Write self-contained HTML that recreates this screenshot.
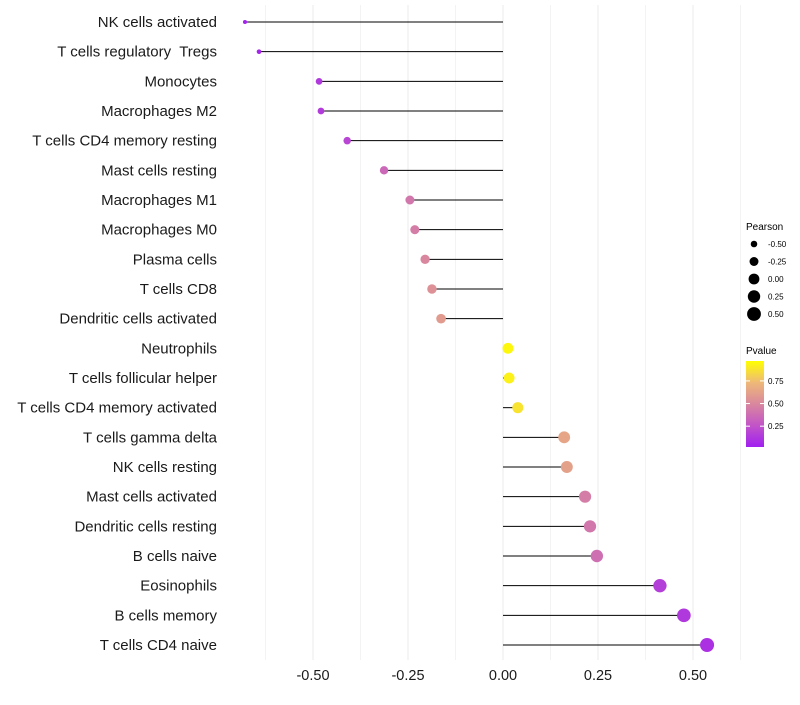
<!DOCTYPE html>
<html><head><meta charset="utf-8"><style>
body{margin:0;background:#fff;font-family:"Liberation Sans",sans-serif}
text{white-space:pre}
</style></head><body>
<svg id="c" width="800" height="700" xmlns="http://www.w3.org/2000/svg"></svg>
<script>
const categories=["NK cells activated","T cells regulatory  Tregs","Monocytes","Macrophages M2","T cells CD4 memory resting","Mast cells resting","Macrophages M1","Macrophages M0","Plasma cells","T cells CD8","Dendritic cells activated","Neutrophils","T cells follicular helper","T cells CD4 memory activated","T cells gamma delta","NK cells resting","Mast cells activated","Dendritic cells resting","B cells naive","Eosinophils","B cells memory","T cells CD4 naive"];
const pearson=[-0.679,-0.642,-0.484,-0.479,-0.41,-0.313,-0.245,-0.232,-0.205,-0.187,-0.163,0.013,0.016,0.039,0.161,0.168,0.216,0.229,0.247,0.413,0.476,0.537];
const pvalue=[0.02,0.03,0.12,0.13,0.18,0.35,0.42,0.45,0.5,0.55,0.6,0.97,0.95,0.9,0.65,0.63,0.45,0.42,0.38,0.15,0.12,0.08];
const xTicks=[-0.5,-0.25,0,0.25,0.5];
const xTickLabels=["-0.50","-0.25","0.00","0.25","0.50"];
const sizeBreaks=[-0.5,-0.25,0,0.25,0.5];
const colorBreaks=[0.25,0.5,0.75];
const NS="http://www.w3.org/2000/svg";
const svg=document.getElementById('c');
const X=v=>503+v*380;
const Y=i=>22+i*(623/(categories.length-1));
const R=p=>Math.sqrt(Math.max(1,29.2+37*p));
const stops=[[0,[160,32,240]],[0.25,[194,84,200]],[0.5,[217,135,158]],[0.75,[238,185,120]],[1,[255,255,0]]];
function col(p){p=Math.max(0,Math.min(1,p));for(let k=1;k<stops.length;k++){if(p<=stops[k][0]){const a=stops[k-1],b=stops[k],t=(p-a[0])/(b[0]-a[0]);return 'rgb('+a[1].map((c,j)=>Math.round(c+(b[1][j]-c)*t)).join(',')+')';}}}
function el(t,a,txt){const e=document.createElementNS(NS,t);for(const k in a)e.setAttribute(k,a[k]);if(txt!==undefined)e.textContent=txt;svg.appendChild(e);return e;}
for(let v=-0.625;v<=0.63;v+=0.125){const e=el('line',{x1:X(v),x2:X(v),y1:5,y2:660,stroke:'#ebebeb','stroke-width':Math.abs((v*4)%1)<0.01?1:0.6});
}
categories.forEach((c,i)=>{const y=Y(i);
const g=el('line',{x1:X(0),x2:X(pearson[i]),y1:y,y2:y,stroke:'#000','stroke-width':1});

const d=el('circle',{cx:X(pearson[i]),cy:y,r:R(pearson[i]),fill:col(pvalue[i])});

const t=el('text',{x:217,y:y+5,'text-anchor':'end','font-size':15,fill:'#1a1a1a'},c);
});
xTicks.forEach((v,i)=>{const t=el('text',{x:X(v),y:680,'text-anchor':'middle','font-size':14.5,fill:'#1a1a1a'},xTickLabels[i]);
});
let lt=el('text',{x:746,y:230,'font-size':10},'Pearson');
sizeBreaks.forEach((s,i)=>{const y=244+i*17.5;
const c=el('circle',{cx:754,cy:y,r:R(s),fill:'#000'});
const t=el('text',{x:768,y:y+3,'font-size':8},xTickLabels[i]);});
let ct=el('text',{x:746,y:354,'font-size':10},'Pvalue');
const defs=el('defs',{});const lg=document.createElementNS(NS,'linearGradient');lg.setAttribute('id','gr');lg.setAttribute('x1','0');lg.setAttribute('y1','1');lg.setAttribute('x2','0');lg.setAttribute('y2','0');defs.appendChild(lg);
stops.forEach(s=>{const st=document.createElementNS(NS,'stop');st.setAttribute('offset',s[0]);st.setAttribute('stop-color','rgb('+s[1].join(',')+')');lg.appendChild(st);});
const cb=el('rect',{x:746,y:361,width:18,height:86,fill:'url(#gr)'});
const CY=p=>447-(p-0.02)/(0.97-0.02)*86;
colorBreaks.forEach(b=>{const y=CY(b);el('line',{x1:746,x2:750,y1:y,y2:y,stroke:'#fff'});el('line',{x1:760,x2:764,y1:y,y2:y,stroke:'#fff'});
const t=el('text',{x:768,y:y+3,'font-size':8},b.toFixed(2));});
</script>
</body></html>
